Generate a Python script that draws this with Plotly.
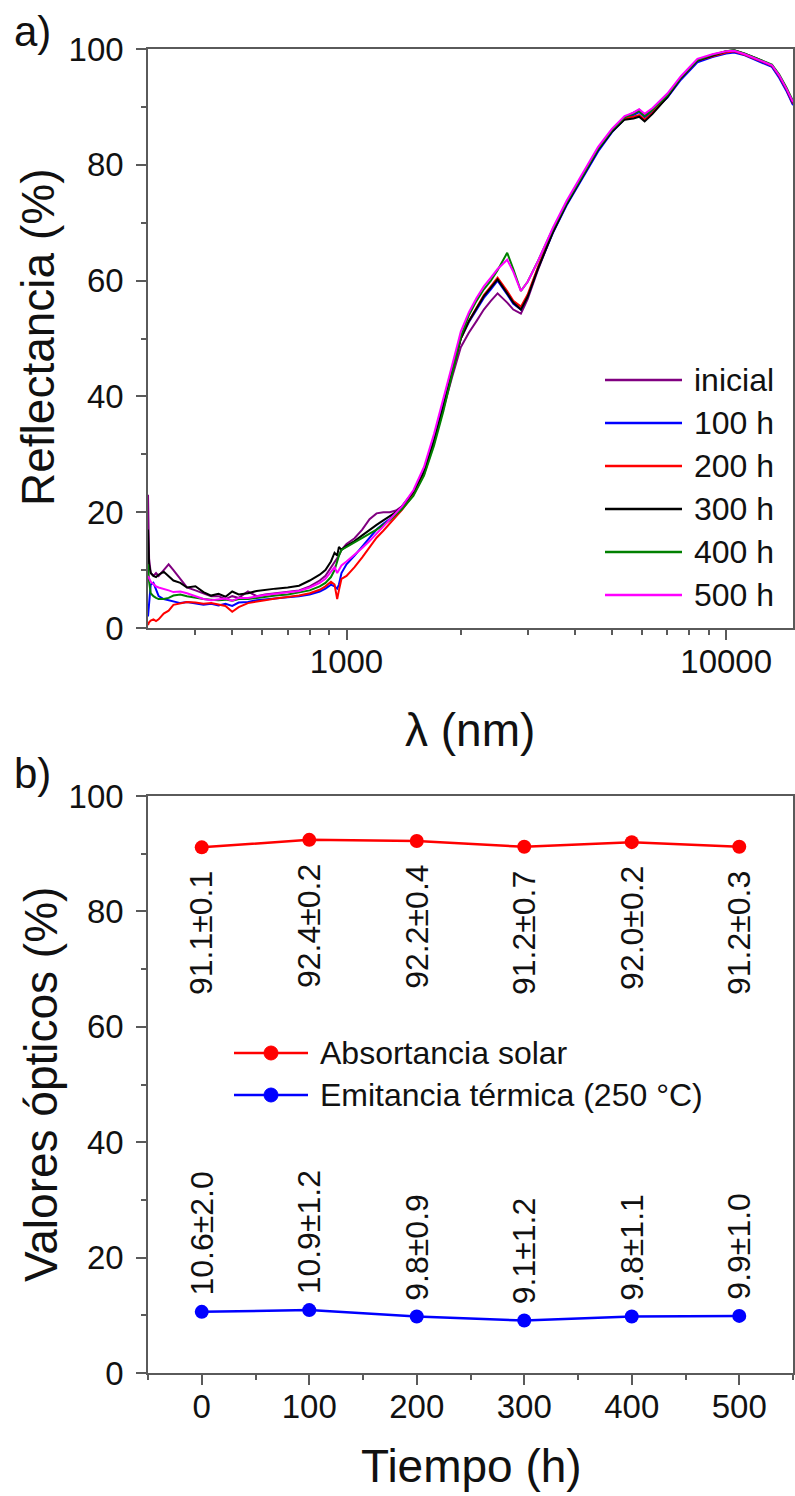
import numpy as np
import plotly.graph_objects as go

W, H = 795, 1496
FONT = "Liberation Sans, Arial, sans-serif"
AXIS_COLOR = "#5a5a5a"
TEXT_COLOR = "#111111"

# ---------------- a) reflectance spectra ----------------
wavelength_nm = [
    300, 302, 305, 310, 315, 320, 330, 340, 350, 365,
    380, 400, 420, 440, 460, 480, 500, 520, 550, 580,
    610, 650, 700, 750, 800, 850, 880, 910, 930, 945,
    955, 970, 1000, 1050, 1100, 1150, 1200, 1250, 1300, 1350,
    1400, 1500, 1600, 1700, 1800, 1900, 2000, 2100, 2200, 2300,
    2400, 2500, 2650, 2750, 2880, 3000, 3200, 3500, 3800, 4200,
    4600, 5000, 5400, 5700, 5900, 6100, 6400, 7000, 7600, 8400,
    9200, 10000, 10500, 11200, 12000, 12500, 13200, 13800, 14400, 15000,
]

refl_inicial = [
    23, 12, 9.5, 9, 9.5, 9, 10, 11, 10, 8.5,
    7, 6.5, 6, 5.5, 5.5, 5, 5.5, 5.2, 6.3, 5.5,
    5.8, 6, 6.2, 6.5, 7.2, 8.2, 9, 10.5, 11.5, 12,
    12.5, 13.5, 14.5, 15.5, 17, 18.8, 19.8, 20, 20, 20.3,
    21, 23.5, 27, 32, 38, 43.5, 48.5, 51, 53, 55,
    56.5, 57.8, 56.2, 55, 54.3, 56.8, 62, 68.5, 73.2, 78.2,
    82.8, 86, 88.2, 89, 89.5, 88.6, 89.6, 92, 95, 98,
    98.8, 99.4, 99.6, 99, 98.2, 97.8, 97, 95.2, 93, 90.5,
]
refl_100h = [
    2, 5, 7.5, 7.8, 6.5, 5.5, 5, 4.8, 4.5, 4.3,
    4.5, 4.2, 4, 4.2, 3.9, 4.2, 3.8, 4.4, 4.5, 4.8,
    4.9, 5.1, 5.3, 5.5, 5.8, 6.3, 6.8, 7.5, 7.2, 6.8,
    7.5, 9.5, 11, 12.5, 14, 15.5, 17, 18, 18.8, 19.8,
    20.8, 23.2, 27, 32.5, 38.5, 44.5, 50, 52.8, 55, 57,
    58.5, 60, 57.6, 56, 55, 57.3, 62.3, 68.3, 73, 77.8,
    82.3, 85.6, 87.9, 88.6, 89.1, 88.2, 89.2, 91.6, 94.7, 97.7,
    98.6, 99.2, 99.4, 98.9, 98, 97.6, 96.9, 95, 92.8, 90.3,
]
refl_200h = [
    0.5, 1, 1.3, 1.5, 1.2, 1.5, 2.5, 3, 4, 4.3,
    4.5, 4.4, 4.2, 4.3, 4.1, 3.8, 2.8, 3.6, 4.3, 4.6,
    4.8, 5.1, 5.3, 5.6, 6, 6.6, 7.2, 8, 7.5, 5,
    6.5, 8.5, 9, 10.5, 12.2, 14, 15.6, 16.8, 18, 19.2,
    20.4, 23, 26.5, 32, 38, 44.3, 50, 53, 55.3, 57.5,
    59, 60.5, 58.2, 56.5, 55.5, 57.6, 62.5, 68.6, 73.4, 78.3,
    82.8, 85.9, 88, 88.3, 88.6, 87.8, 89, 91.8, 95, 98,
    98.8, 99.4, 99.6, 99, 98.2, 97.8, 97.1, 95.3, 93.1, 90.6,
]
refl_300h = [
    17, 11, 9.5, 9, 8.8, 9.2, 9.7, 9, 8.2, 7.8,
    7, 7.2, 6.2, 5.6, 5.9, 5.4, 6.3, 5.8, 6, 6.4,
    6.6, 6.8, 7, 7.3, 8.2, 9.2, 10, 11.5, 13, 12.5,
    14, 13.5, 14.2, 15, 16, 17, 17.8, 18.6, 19.3, 20,
    21, 23.5, 27, 32.3, 38.3, 44.2, 50, 53, 55.2, 57.3,
    58.8, 60.2, 57.8, 56.2, 55, 57.2, 62.2, 68.4, 73.2, 78.1,
    82.6, 85.7, 87.8, 88, 88.3, 87.5, 88.8, 91.7, 95, 98,
    98.9, 99.6, 99.8, 99.2, 98.4, 97.9, 97.2, 95.4, 93.2, 90.7,
]
refl_400h = [
    11, 8, 6, 5.5, 5.2, 5, 5, 5.2, 5.6, 5.8,
    5.5, 5.2, 5, 4.9, 4.8, 4.9, 4.7, 5, 5, 5.2,
    5.4, 5.6, 5.8, 6.1, 6.5, 7.2, 7.8, 8.8, 10, 11.5,
    12.5, 13.5, 14, 14.8, 15.5, 16.3, 17, 17.8, 18.6, 19.6,
    20.5, 22.8, 26.3, 31.5, 37.5, 44, 50.3, 54, 56.5, 58.5,
    60, 61.8, 64.8, 62, 58.2, 59.8, 63.5, 69, 73.5, 78.3,
    82.8, 86, 88.2, 88.8, 89.3, 88.4, 89.5, 92, 95.1, 98.1,
    99, 99.6, 99.8, 99.2, 98.4, 98, 97.3, 95.6, 93.4, 91,
]
refl_500h = [
    9, 8.5, 8, 7.6, 7.2, 7, 6.8, 6.5, 6.2, 6.3,
    6, 5.5, 5, 4.8, 4.9, 5.1, 4.7, 5.2, 5.2, 5.5,
    5.7, 5.9, 6.1, 6.4, 7, 7.8, 8.5, 9.6, 10.5, 9.5,
    10, 10.8, 11.5, 12.6, 13.8, 15, 16.3, 17.5, 18.6, 19.8,
    21, 23.8, 27.8, 33.5, 39.5, 45.5, 51.2, 54.5, 57, 59,
    60.5, 62, 63.6, 61.5, 58.2, 59.8, 63.5, 69.2, 73.8, 78.6,
    83.1, 86.2, 88.4, 89, 89.6, 88.8, 89.8, 92.3, 95.3, 98.3,
    99.1, 99.6, 99.7, 99.1, 98.3, 97.9, 97.2, 95.4, 93.2, 90.8,
]

spectra_names = ["inicial", "100 h", "200 h", "300 h", "400 h", "500 h"]
spectra_values = [refl_inicial, refl_100h, refl_200h, refl_300h, refl_400h, refl_500h]
spectra_colors = ["#800080", "#0000FF", "#FF0000", "#000000", "#008000", "#FF00FF"]

# ---------------- b) optical values vs time ----------------
tiempo_h = [0, 100, 200, 300, 400, 500]
absortancia = [91.1, 92.4, 92.2, 91.2, 92.0, 91.2]
absortancia_err = [0.1, 0.2, 0.4, 0.7, 0.2, 0.3]
emitancia = [10.6, 10.9, 9.8, 9.1, 9.8, 9.9]
emitancia_err = [2.0, 1.2, 0.9, 1.2, 1.1, 1.0]

fig = go.Figure()

for name, vals, color in zip(spectra_names, spectra_values, spectra_colors):
    fig.add_trace(go.Scatter(
        x=wavelength_nm, y=vals, mode="lines", name=name,
        line=dict(color=color, width=2), xaxis="x", yaxis="y",
    ))

fig.add_trace(go.Scatter(
    x=tiempo_h, y=absortancia, mode="lines+markers", name="Absortancia solar",
    line=dict(color="#FF0000", width=2.5), marker=dict(color="#FF0000", size=14),
    xaxis="x2", yaxis="y2",
))
fig.add_trace(go.Scatter(
    x=tiempo_h, y=emitancia, mode="lines+markers", name="Emitancia térmica (250 °C)",
    line=dict(color="#0000FF", width=2.5), marker=dict(color="#0000FF", size=14),
    xaxis="x2", yaxis="y2",
))


def px_x(px):
    return px / W


def px_y(py):
    return 1 - py / H


axis_style = dict(
    showline=True, mirror=True, linecolor=AXIS_COLOR, linewidth=1.5,
    ticks="outside", ticklen=10, tickwidth=1.5, tickcolor=AXIS_COLOR,
    showgrid=False, zeroline=False, automargin=False,
    tickfont=dict(family=FONT, size=33, color=TEXT_COLOR),
)
minor_style = dict(ticks="outside", ticklen=5, tickwidth=1.5, tickcolor=AXIS_COLOR, showgrid=False)

log_minor = [400, 500, 600, 700, 800, 900, 2000, 3000, 4000, 5000, 6000, 7000, 8000, 9000]

plot_x = [px_x(148), px_x(793)]

fig.update_layout(
    width=W, height=H, margin=dict(l=0, r=0, t=0, b=0, autoexpand=False),
    paper_bgcolor="white", plot_bgcolor="white", showlegend=False,
    font=dict(family=FONT, size=33, color=TEXT_COLOR),
    xaxis=dict(
        type="log", range=[np.log10(300), np.log10(15000)], domain=plot_x, anchor="y",
        tickmode="array", tickvals=[1000, 10000], ticktext=["1000", "10000"],
        minor=dict(tickmode="array", tickvals=log_minor, **minor_style),
        ticklabelstandoff=-6, **axis_style,
    ),
    yaxis=dict(
        range=[0, 100], domain=[px_y(628), px_y(49)], anchor="x",
        tick0=0, dtick=20, minor=dict(dtick=10, **minor_style),
        ticklabelstandoff=6, **axis_style,
    ),
    xaxis2=dict(
        range=[-50, 550], domain=plot_x, anchor="y2",
        tick0=0, dtick=100, minor=dict(dtick=50, **minor_style),
        ticklabelstandoff=-6, **axis_style,
    ),
    yaxis2=dict(
        range=[0, 100], domain=[px_y(1373), px_y(796)], anchor="x2",
        tick0=0, dtick=20, minor=dict(dtick=10, **minor_style),
        ticklabelstandoff=6, **axis_style,
    ),
)

annotations = []
shapes = []

# axis titles and panel labels
title_font = dict(family=FONT, size=46, color=TEXT_COLOR)
for text, x, y, angle in [
    ("Reflectancia (%)", 38, 338, -90),
    ("λ (nm)", 470, 730, 0),
    ("Valores ópticos (%)", 41, 1085, -90),
    ("Tiempo (h)", 471, 1466, 0),
]:
    annotations.append(dict(
        text=text, x=px_x(x), y=px_y(y), xref="paper", yref="paper",
        xanchor="center", yanchor="middle", textangle=angle,
        showarrow=False, font=title_font,
    ))
for text, x, y in [("a)", 32, 31), ("b)", 32, 774)]:
    annotations.append(dict(
        text=text, x=px_x(x), y=px_y(y), xref="paper", yref="paper",
        xanchor="center", yanchor="middle", showarrow=False,
        font=dict(family=FONT, size=42, color=TEXT_COLOR),
    ))

# legend for panel a
leg_a_top, leg_a_step = 380, 43
for i, (name, color) in enumerate(zip(spectra_names, spectra_colors)):
    yy = leg_a_top + i * leg_a_step
    shapes.append(dict(
        type="line", xref="paper", yref="paper",
        x0=px_x(605), x1=px_x(682), y0=px_y(yy), y1=px_y(yy),
        line=dict(color=color, width=2.5),
    ))
    annotations.append(dict(
        text=name, x=px_x(692), y=px_y(yy), xref="paper", yref="paper",
        xanchor="left", yanchor="middle", showarrow=False,
        font=dict(family=FONT, size=32, color=TEXT_COLOR),
    ))

# legend for panel b
for i, (name, color) in enumerate([("Absortancia solar", "#FF0000"),
                                   ("Emitancia térmica (250 °C)", "#0000FF")]):
    yy = 1053 + i * 42
    shapes.append(dict(
        type="line", xref="paper", yref="paper",
        x0=px_x(234), x1=px_x(308), y0=px_y(yy), y1=px_y(yy),
        line=dict(color=color, width=2.5),
    ))
    shapes.append(dict(
        type="circle", xref="paper", yref="paper",
        x0=px_x(264), x1=px_x(278), y0=px_y(yy + 7), y1=px_y(yy - 7),
        line=dict(color=color, width=1), fillcolor=color,
    ))
    annotations.append(dict(
        text=name, x=px_x(318), y=px_y(yy), xref="paper", yref="paper",
        xanchor="left", yanchor="middle", showarrow=False,
        font=dict(family=FONT, size=32, color=TEXT_COLOR),
    ))

# value labels for panel b
label_font = dict(family=FONT, size=32, color=TEXT_COLOR)
for t, v, e in zip(tiempo_h, absortancia, absortancia_err):
    annotations.append(dict(
        text=f"{v:.1f}±{e:.1f}", x=t, y=v, xref="x2", yref="y2",
        xanchor="center", yanchor="top", yshift=-22, textangle=-90,
        showarrow=False, font=label_font,
    ))
for t, v, e in zip(tiempo_h, emitancia, emitancia_err):
    annotations.append(dict(
        text=f"{v:.1f}±{e:.1f}", x=t, y=v, xref="x2", yref="y2",
        xanchor="center", yanchor="bottom", yshift=14, textangle=-90,
        showarrow=False, font=label_font,
    ))

fig.update_layout(annotations=annotations, shapes=shapes)

fig.write_html("out.html")
